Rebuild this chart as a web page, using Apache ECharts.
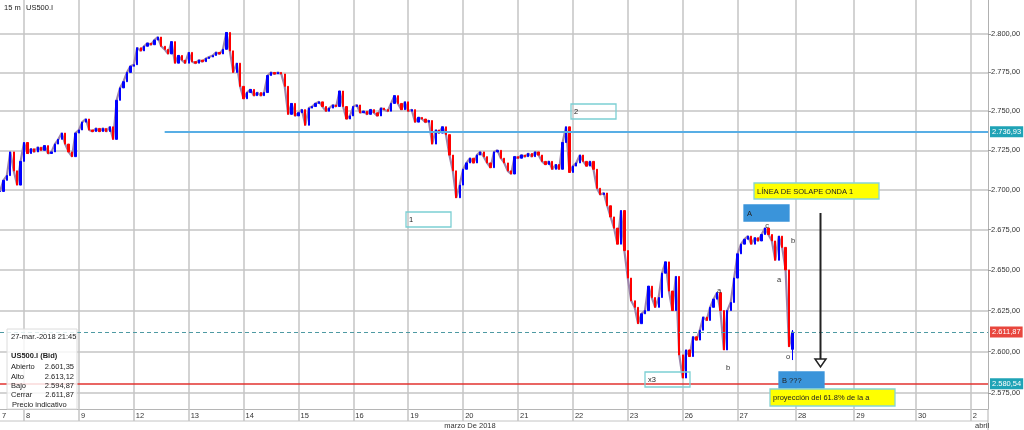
<!DOCTYPE html>
<html><head><meta charset="utf-8">
<script src="https://cdn.jsdelivr.net/npm/echarts@6/dist/echarts.min.js"></script>
<style>html,body{margin:0;padding:0;background:#fff}#c{width:1024px;height:430px}</style>
</head><body><div id="c"></div>
<script>
// ---- data ----
const dayLabels = ['7','8','9','12','13','14','15','16','19','20','21','22','23','26','27','28','29','30','2'];
const barsPerDay = [7,16,16,16,16,16,16,16,16,16,16,16,16,16,17,17,18,16,6];
const p07 = [2699, 2706, 2709, 2724, 2712, 2703, 2718];
const p08 = [2730, 2723, 2726, 2724, 2727, 2725, 2728, 2723, 2724, 2729, 2732, 2736, 2729, 2724, 2721, 2736];
const p09 = [2738, 2743, 2745, 2738, 2737, 2739, 2737, 2739, 2737, 2740, 2732, 2757, 2765, 2769, 2775, 2779];
const p12 = [2780, 2791, 2789, 2792, 2794, 2793, 2796, 2798, 2792, 2790, 2787, 2795, 2781, 2786, 2783, 2781];
const p13 = [2788, 2782, 2781, 2783, 2782, 2784, 2785, 2786, 2788, 2787, 2790, 2801, 2789, 2775, 2781, 2766];
const p14 = [2758, 2762, 2764, 2760, 2762, 2760, 2762, 2773, 2775, 2774, 2775, 2774, 2766, 2748, 2755, 2747];
const p15 = [2749, 2751, 2741, 2752, 2753, 2755, 2756, 2753, 2750, 2752, 2754, 2753, 2763, 2753, 2745, 2747];
const p16 = [2753, 2754, 2749, 2750, 2748, 2751, 2749, 2747, 2752, 2751, 2750, 2755, 2760, 2755, 2751, 2756];
const p19 = [2750, 2751, 2743, 2746, 2745, 2743, 2744, 2729, 2738, 2736, 2740, 2735, 2722, 2712, 2695, 2703];
const p20 = [2713, 2717, 2720, 2717, 2722, 2724, 2721, 2717, 2714, 2724, 2725, 2720, 2717, 2712, 2710, 2721];
const p21 = [2720, 2722, 2721, 2723, 2721, 2724, 2722, 2718, 2716, 2718, 2713, 2716, 2713, 2730, 2740, 2711];
const p22 = [2715, 2717, 2722, 2718, 2715, 2718, 2713, 2701, 2697, 2698, 2690, 2683, 2676, 2666, 2687, 2662];
const p23 = [2645, 2631, 2627, 2617, 2623, 2625, 2640, 2633, 2627, 2633, 2648, 2655, 2637, 2625, 2646, 2598];
const p26 = [2584, 2601, 2597, 2609, 2607, 2613, 2621, 2619, 2627, 2632, 2636, 2625, 2601, 2625, 2630, 2645];
const p27 = [2660, 2666, 2669, 2671, 2666, 2670, 2668, 2672, 2676, 2672, 2668, 2656, 2671, 2664, 2650, 2603];
const lastBar = [2601.35, 2611.87, 2594.87, 2613.12]; // open, close, low, high (27-mar 21:45)
const yTicks = [2575, 2600, 2625, 2650, 2675, 2700, 2725, 2750, 2775, 2800];
const overlapLevel = 2736.93;
const lastPrice = 2611.87;
const targetLevel = 2580.54;
const overlapStartBar = 48;

// ---- build ----
const FONT = '"Liberation Sans", Arial, sans-serif';
function fmt(v){ const s = v.toFixed(2).split('.'); return s[0].replace(/\B(?=(\d{3})+(?!\d))/g,'.') + ',' + s[1]; }
const categories = [], dayStart = new Set(), labelAt = new Set();
dayLabels.forEach((d, di) => {
  for (let k = 0; k < barsPerDay[di]; k++) {
    if (k === 0) { labelAt.add(categories.length); if (di > 0) dayStart.add(categories.length); }
    categories.push(d + '|' + k);
  }
});
const closes = [].concat(p07,p08,p09,p12,p13,p14,p15,p16,p19,p20,p21,p22,p23,p26,p27);
const candles = closes.map((c,i) => { const o = i ? closes[i-1] : c; return [o, c, Math.min(o,c), Math.max(o,c)]; });
candles.push(lastBar);
const lineData = closes.concat([lastBar[1]]);

const GRID = '#c4c4c4';
function lvlLabel(v, bg){ return {show:true, position:'end', distance:2, formatter:()=>fmt(v), color:'#fff', backgroundColor:bg, padding:[2,2,1,2], fontSize:7.5, fontFamily:FONT}; }

function box(x,y,w,h,fill,stroke,txt){
  return [
    {type:'rect', z:20, shape:{x:x,y:y,width:w,height:h}, style:{fill:fill, stroke:stroke, lineWidth:1.3}},
    {type:'text', z:21, x:x+3, y:y+h/2+0.5, style:{text:txt, font:'7.5px '+FONT, fill:'#222', textVerticalAlign:'middle'}}
  ];
}
function letter(x,y,t){ return {type:'text', z:21, x:x, y:y, style:{text:t, font:'7.5px '+FONT, fill:'#333', textAlign:'center', textVerticalAlign:'middle'}}; }

const info = [
  {type:'rect', z:20, shape:{x:7,y:329,width:70,height:80}, style:{fill:'rgba(255,255,255,0.82)', stroke:'#dcdcdc', lineWidth:1}},
  {type:'text', z:21, x:11, y:337, style:{text:'27-mar.-2018 21:45', font:'7.5px '+FONT, fill:'#222', textVerticalAlign:'middle'}},
  {type:'text', z:21, x:11, y:356, style:{text:'US500.I (Bid)', font:'bold 7.5px '+FONT, fill:'#222', textVerticalAlign:'middle'}},
];
[['Abierto',lastBar[0],367],['Alto',lastBar[3],376.5],['Bajo',lastBar[2],385.5],['Cerrar',lastBar[1],394.5]].forEach(r=>{
  info.push({type:'text', z:21, x:11, y:r[2], style:{text:r[0], font:'7.5px '+FONT, fill:'#222', textVerticalAlign:'middle'}});
  info.push({type:'text', z:21, x:74, y:r[2], style:{text:fmt(r[1]), font:'7.5px '+FONT, fill:'#222', textAlign:'right', textVerticalAlign:'middle'}});
});
info.push({type:'text', z:21, x:12, y:405, style:{text:'Precio indicativo', font:'7.5px '+FONT, fill:'#222', textVerticalAlign:'middle'}});

const graphics = [].concat(
  [
    {type:'text', x:4, y:8, style:{text:'15 m', font:'7.5px '+FONT, fill:'#222', textVerticalAlign:'middle'}},
    {type:'text', x:26, y:8, style:{text:'US500.I', font:'7.5px '+FONT, fill:'#222', textVerticalAlign:'middle'}},
    {type:'line', shape:{x1:0,y1:421,x2:988,y2:421}, style:{stroke:GRID, lineWidth:1}},
    {type:'line', shape:{x1:988,y1:409,x2:988,y2:430}, style:{stroke:'#b0b0b0', lineWidth:1}},
    {type:'text', x:470, y:426, style:{text:'marzo De 2018', font:'7.5px '+FONT, fill:'#333', textAlign:'center', textVerticalAlign:'middle'}},
    {type:'text', x:975, y:426, style:{text:'abril', font:'7.5px '+FONT, fill:'#333', textVerticalAlign:'middle'}}
  ],
  info,
  box(406,212,45,15,'rgba(255,255,255,0)','#7ccfd3','1'),
  box(571,104,45,15,'rgba(255,255,255,0)','#7ccfd3','2'),
  box(645,372,45,15,'rgba(255,255,255,0)','#7ccfd3','x3'),
  box(754,183,125,16,'#ffff00','#86d3d3','LÍNEA DE SOLAPE ONDA 1'),
  box(744,205,45,16,'#3a94da','#3a94da','A'),
  box(779,372,45,16,'#3a94da','#3a94da','B ???'),
  box(770,389,125,17,'#ffff00','#86d3d3','proyección del 61.8% de la a'),
  [
    {type:'line', z:20, shape:{x1:820.5,y1:213,x2:820.5,y2:359}, style:{stroke:'#222', lineWidth:2}},
    {type:'polygon', z:21, shape:{points:[[815,359],[826,359],[820.5,367]]}, style:{fill:'#fff', stroke:'#222', lineWidth:1.5}},
    letter(767,226,'c'), letter(793,241,'b'), letter(779,280,'a'), letter(788,357,'o'),
    letter(719,291,'a'), letter(728,368,'b')
  ]
);

const chart = echarts.init(document.getElementById('c'), null, {renderer:'canvas'});
chart.setOption({
  animation:false,
  backgroundColor:'#fff',
  textStyle:{fontFamily:FONT},
  grid:{left:0, right:36, top:0, bottom:21, outerBoundsMode:'none'},
  xAxis:{
    type:'category', data:categories, boundaryGap:false,
    axisLine:{show:true, lineStyle:{color:'#b5b5b5', width:1}},
    axisTick:{show:true, interval:(i)=>dayStart.has(i), length:12, lineStyle:{color:GRID, width:1.5}},
    axisLabel:{interval:(i)=>labelAt.has(i), formatter:(v)=>v.split('|')[0], align:'left', padding:[0,0,0,2],
               margin:3, fontSize:7.5, color:'#333', fontFamily:FONT},
    splitLine:{show:true, interval:(i)=>dayStart.has(i), lineStyle:{color:GRID, width:1.5}}
  },
  yAxis:{
    type:'log', logBase:10, position:'right', min:2565.4, max:2822.3,
    axisLine:{show:true, lineStyle:{color:'#b0b0b0', width:1}},
    axisTick:{show:true, customValues:yTicks, length:3, lineStyle:{color:'#999'}},
    axisLabel:{customValues:yTicks, formatter:(v)=>fmt(v), color:'#333', fontSize:7.5, margin:3, fontFamily:FONT},
    splitLine:{show:true, lineStyle:{color:GRID, width:1.5}}
  },
  series:[
    {type:'line', data:lineData, symbol:'none', silent:true, z:2,
     lineStyle:{color:'#9d84ab', width:2.2}},
    {type:'candlestick', data:candles, barWidth:1.8, silent:true, z:3,
     itemStyle:{color:'#0000ff', color0:'#ff0000', borderColor:'#0000ff', borderColor0:'#ff0000', borderWidth:1}},
    {type:'line', data:[], silent:true, z:4,
     markLine:{silent:true, symbol:['none','none'], animation:false,
       data:[
         [{coord:[categories[overlapStartBar], overlapLevel], lineStyle:{color:'#58aee5', width:2.2, type:'solid'}, label:lvlLabel(overlapLevel,'#1fa3b6')},
          {coord:[categories[categories.length-1], overlapLevel]}],
         {yAxis:lastPrice, lineStyle:{color:'#4e9aa3', width:1, type:[4,3]}, label:lvlLabel(lastPrice,'#e8463d')},
         {yAxis:targetLevel, lineStyle:{color:'#e2322f', width:1.6, type:'solid'}, label:lvlLabel(targetLevel,'#1fa3b6')}
       ]}}
  ],
  graphic: graphics
});
</script></body></html>
